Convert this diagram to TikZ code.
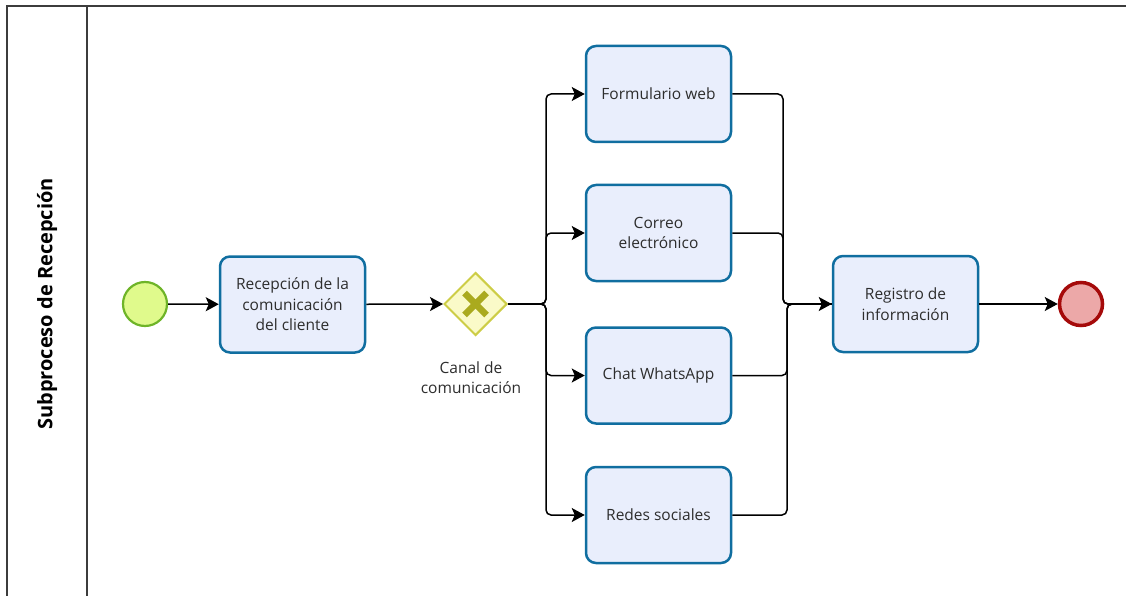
\documentclass[tikz,border=0pt]{standalone}
\usepackage{fontspec}
\setmainfont{Open Sans}
\usetikzlibrary{shapes.geometric, arrows.meta, positioning, calc}
\definecolor{taskblue}{RGB}{16, 110, 160}
\definecolor{taskfill}{RGB}{233, 238, 252}
\definecolor{startgreen}{RGB}{110, 180, 40}
\definecolor{startfill}{RGB}{224, 250, 140}
\definecolor{endred}{RGB}{165, 10, 10}
\definecolor{endfill}{RGB}{236, 168, 168}
\definecolor{gateline}{RGB}{205, 205, 70}
\definecolor{gatefill}{RGB}{250, 250, 200}
\definecolor{gatemark}{RGB}{170, 170, 30}
\definecolor{lanegray}{RGB}{60, 60, 60}
\definecolor{txtgray}{RGB}{45, 45, 45}

\begin{document}
\begin{tikzpicture}[
  x=1pt, y=-1pt,
  task/.style={draw=taskblue, fill=taskfill, line width=2.5pt, rounded corners=10pt, minimum width=145pt, minimum height=96pt, align=center, inner sep=4pt, text=txtgray, font=\fontsize{15.5}{20.5}\selectfont},
  startev/.style={circle, draw=startgreen, fill=startfill, line width=2.2pt, minimum size=44pt, inner sep=0pt},
  endev/.style={circle, draw=endred, fill=endfill, line width=3.5pt, minimum size=43pt, inner sep=0pt},
  gate/.style={diamond, draw=gateline, fill=gatefill, line width=2pt, minimum width=63pt, minimum height=63pt, inner sep=0pt},
  flow/.style={-{Stealth[length=13pt, width=14pt, inset=3pt]}, line width=1.5pt, rounded corners=5pt},
  link/.style={line width=1.5pt, rounded corners=5pt}
]
  \useasboundingbox (0,0) rectangle (1126,596);

  % lane
  \draw[lanegray, line width=1.5pt] (7,596) -- (7,6) -- (1126,6);
  \draw[lanegray, line width=1.5pt] (87,6) -- (87,596);
  \node[rotate=90, font=\bfseries\fontsize{20}{24}\selectfont] (lane) at (47,304) {Subproceso de Recepción};

  % nodes
  \node[startev] (start) at (145,304) {};
  \node[task] (recep) at (292.5,304.5) {Recepción de la\\comunicación\\del cliente};
  \node[gate] (canal) at (475.5,304) {};
  \draw[gatemark, line width=6.5pt] ($(canal)+(-11,-11)$) -- ($(canal)+(11,11)$);
  \draw[gatemark, line width=6.5pt] ($(canal)+(-11,11)$) -- ($(canal)+(11,-11)$);
  \node[align=center, text=txtgray, font=\fontsize{15.5}{20.5}\selectfont] (canallbl) at (471,377.5) {Canal de\\comunicación};
  \node[task] (form) at (658.5,94) {Formulario web};
  \node[task] (correo) at (658.5,233) {Correo\\electrónico};
  \node[task] (chat) at (658.5,375.5) {Chat WhatsApp};
  \node[task] (redes) at (658.5,515) {Redes sociales};
  \node[task] (registro) at (905.5,304) {Registro de\\información};
  \node[endev] (fin) at (1081,304) {};

  % flows
  \coordinate (split) at (546,304);
  \coordinate (mergeup) at (783,304);
  \coordinate (mergedn) at (787,304);
  \draw[flow] (start) -- (recep);
  \draw[flow] (recep) -- (canal.west);
  \foreach \t in {form, correo, chat, redes}
    \draw[flow] (canal.east) -- (split) |- (\t.west);
  \foreach \t in {form, correo}
    \draw[link] (\t.east) -| (mergeup) -- (registro.west);
  \foreach \t in {chat, redes}
    \draw[link] (\t.east) -| (mergedn) -- (registro.west);
  \draw[flow] (mergedn) -- (registro.west);
  \draw[flow] (registro) -- (fin);
\end{tikzpicture}
\end{document}
